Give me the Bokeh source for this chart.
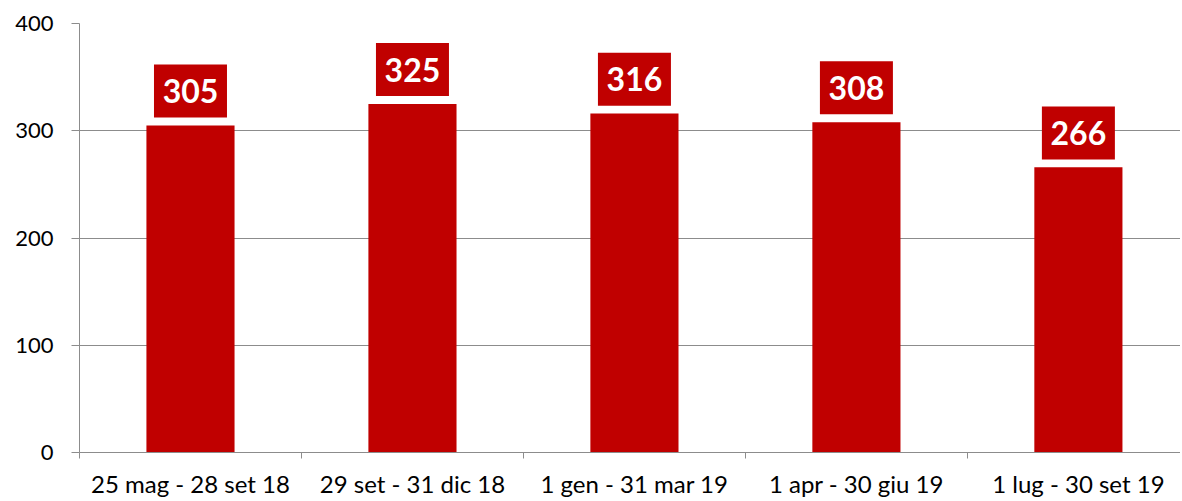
from bokeh.plotting import figure
from bokeh.models import ColumnDataSource, FixedTicker, Range1d
from bokeh.core.properties import value
from bokeh.embed import file_html
from bokeh.resources import INLINE

categories = ["25 mag - 28 set 18", "29 set - 31 dic 18", "1 gen - 31 mar 19",
              "1 apr - 30 giu 19", "1 lug - 30 set 19"]
counts = [305, 325, 316, 308, 266]
y_ticks = [0, 100, 200, 300, 400]

RED = "#C00000"
GRID = "#8c8c8c"
FONT = "Lato"

xs = [i + 0.5 for i in range(len(categories))]
label_offset = 32  # data units above bar top for the label box centre
src = ColumnDataSource(dict(
    x=xs,
    top=counts,
    ly=[c + label_offset for c in counts],
    txt=[str(c) for c in counts],
))

p = figure(width=1180, height=500, output_backend="svg", toolbar_location=None,
           x_range=Range1d(0, 4.96), y_range=Range1d(0, 400),
           min_border_left=79, min_border_top=23, min_border_right=0,
           min_border_bottom=46)
p.outline_line_color = None
p.background_fill_color = "white"
p.border_fill_color = "white"

p.vbar(x="x", top="top", width=0.397, bottom=0, source=src, fill_color=RED, line_color=None)
p.rect(x="x", y="ly", width=73, height=53, width_units="screen", height_units="screen",
       source=src, fill_color=RED, line_color=None)
p.text(x="x", y="ly", text="txt", source=src, text_color="white",
       text_font=value(FONT), text_font_style="bold", text_font_size="32px",
       text_align="center", text_baseline="middle")

# x axis
xa = p.xaxis[0]
xa.ticker = FixedTicker(ticks=xs, minor_ticks=list(range(len(categories) + 1)))
xa.major_label_overrides = {x: c for x, c in zip(xs, categories)}
xa.major_tick_line_color = None
xa.minor_tick_line_color = GRID
xa.minor_tick_out = 6
xa.minor_tick_in = 0
xa.axis_line_color = GRID
xa.major_label_text_font = FONT
xa.major_label_text_font_size = "24px"
xa.major_label_text_color = "black"
xa.major_label_standoff = 10

# y axis
ya = p.yaxis[0]
ya.ticker = FixedTicker(ticks=y_ticks)
ya.minor_tick_line_color = None
ya.major_tick_line_color = GRID
ya.major_tick_out = 8
ya.major_tick_in = 0
ya.axis_line_color = GRID
ya.major_label_text_font = FONT
ya.major_label_text_font_size = "22px"
ya.major_label_text_color = "black"
ya.major_label_standoff = 18

p.xgrid.grid_line_color = None
p.ygrid.ticker = FixedTicker(ticks=y_ticks)
p.ygrid.grid_line_color = GRID
p.ygrid.grid_line_width = 1

open("out.html", "w").write(file_html(p, INLINE))
